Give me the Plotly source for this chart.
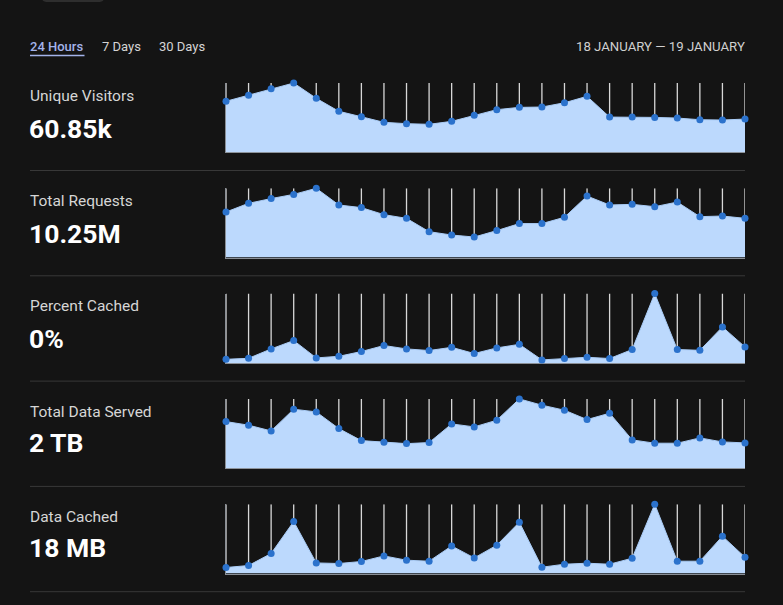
import plotly.graph_objects as go

W, H = 783, 605

hours = list(range(24))

# hourly values
unique_visitors = [3100, 3460, 3860, 4210, 3280, 2490, 2160, 1820, 1740, 1700, 1880, 2250,
                   2590, 2730, 2750, 3010, 3400, 2140, 2140, 2120, 2080, 1980, 1960, 2020]
total_requests = [434000, 517000, 562000, 602000, 660000, 501000, 476000, 409000, 374000, 247000, 215000, 196000,
                  257000, 324000, 324000, 384000, 586000, 501000, 507000, 485000, 529000, 390000, 396000, 374000]
percent_cached = [0.018, 0.023, 0.070, 0.112, 0.025, 0.033, 0.057, 0.087, 0.070, 0.062, 0.078, 0.047,
                  0.075, 0.093, 0.015, 0.022, 0.028, 0.022, 0.067, 0.347, 0.067, 0.063, 0.180, 0.080]
data_served_gb = [95.8, 88.4, 76.6, 121.2, 115.7, 81.4, 56.7, 53.4, 50.5, 52.6, 91.0, 84.9,
                  98.6, 142.4, 129.5, 119.2, 99.9, 113.0, 58.2, 51.4, 51.4, 62.3, 54.0, 52.0]
data_cached_kb = [224, 298, 746, 1940, 395, 373, 448, 656, 496, 459, 1029, 582,
                  1056, 1913, 235, 347, 384, 347, 571, 2585, 459, 459, 1391, 608]

labels = ["Unique Visitors", "Total Requests", "Percent Cached", "Total Data Served", "Data Cached"]
totals = ["60.85k", "10.25M", "0%", "2 TB", "18 MB"]
series = [unique_visitors, total_requests, percent_cached, data_served_gb, data_cached_kb]

tabs = ["24 Hours", "7 Days", "30 Days"]
date_range = "18 JANUARY \u2014 19 JANUARY"

BG = "#141414"
FILL = "#bcd9fd"
DOT = "#2b72cc"


def py(px):
    return 1 - px / H


def pxx(px):
    return px / W


fig = go.Figure()

row_top = 83
row_pitch = 105.3
chart_h = 69.3

for i, vals in enumerate(series):
    top = max(vals)
    n = "" if i == 0 else str(i + 1)
    fig.add_trace(go.Scatter(
        x=hours, y=vals, xaxis="x" + n, yaxis="y" + n,
        mode="lines+markers", fill="tozeroy", fillcolor=FILL,
        line=dict(color="#a9cbf5", width=1),
        marker=dict(color=DOT, size=7),
        error_y=dict(type="data", symmetric=False,
                     array=[top - v for v in vals], arrayminus=[0] * len(vals),
                     width=0, color="#d8d8d8", thickness=1.3),
        cliponaxis=False, hoverinfo="skip", showlegend=False,
    ))
    y0 = row_top + i * row_pitch
    y1 = y0 + chart_h
    fig.layout["xaxis" + n] = dict(domain=[pxx(226), pxx(745)], range=[0, 23],
                                   anchor="y" + n, showgrid=False, zeroline=False,
                                   showticklabels=False, showline=True,
                                   linecolor="#8a8f96", linewidth=1, layer="below traces")
    fig.layout["yaxis" + n] = dict(domain=[py(y1), py(y0)], range=[0, top],
                                   anchor="x" + n, showgrid=False, zeroline=False,
                                   showticklabels=False, showline=True,
                                   linecolor="#8a8f96", linewidth=1, layer="below traces")

    fig.add_annotation(x=pxx(28), y=py(96 + i * 105.2), xref="paper", yref="paper",
                       text=labels[i], showarrow=False, xanchor="left", yanchor="middle",
                       font=dict(family="Roboto", size=15.5, color="#d6d6d6"))
    fig.add_annotation(x=pxx(27), y=py(128.5 + i * 104.8), xref="paper", yref="paper",
                       text="<b>" + totals[i] + "</b>", showarrow=False, xanchor="left",
                       yanchor="middle", font=dict(family="Roboto", size=26.5, color="#ffffff"))
    sep = 170.5 + i * row_pitch
    fig.add_shape(type="line", xref="paper", yref="paper", x0=pxx(30), x1=pxx(745),
                  y0=py(sep), y1=py(sep), line=dict(color="#383838", width=1))

# tabs
tab_x = [28, 100, 157]
for j, t in enumerate(tabs):
    fig.add_annotation(x=pxx(tab_x[j]), y=py(46.5), xref="paper", yref="paper", text=t,
                       showarrow=False, xanchor="left", yanchor="middle",
                       font=dict(family="Roboto", size=13,
                                 color="#a3b3ea" if j == 0 else "#d4d4d4",
                                 weight=500 if j == 0 else 400))
fig.add_shape(type="line", xref="paper", yref="paper", x0=pxx(30), x1=pxx(84.5),
              y0=py(55.5), y1=py(55.5), line=dict(color="#a3b3ea", width=1.5))

fig.add_annotation(x=pxx(747), y=py(46.5), xref="paper", yref="paper", text=date_range,
                   showarrow=False, xanchor="right", yanchor="middle",
                   font=dict(family="Roboto", size=13.2, color="#d0d0d0"))

# edge of the button cut off at the top
fig.add_shape(type="path", xref="paper", yref="paper",
              path=f"M {pxx(42)} {py(-4)} L {pxx(42)} {py(-2)} Q {pxx(42)} {py(2)} {pxx(48)} {py(2)} "
                   f"L {pxx(98)} {py(2)} Q {pxx(104)} {py(2)} {pxx(104)} {py(-2)} L {pxx(104)} {py(-4)} Z",
              fillcolor="#2e2e2e", line=dict(width=0))

fig.update_layout(width=W, height=H, margin=dict(l=0, r=0, t=0, b=0),
                  paper_bgcolor=BG, plot_bgcolor=BG)

fig.write_html("out.html", config={"displayModeBar": False},
               post_script="document.body.style.margin='0';"
                           "document.body.style.background='#141414';")
